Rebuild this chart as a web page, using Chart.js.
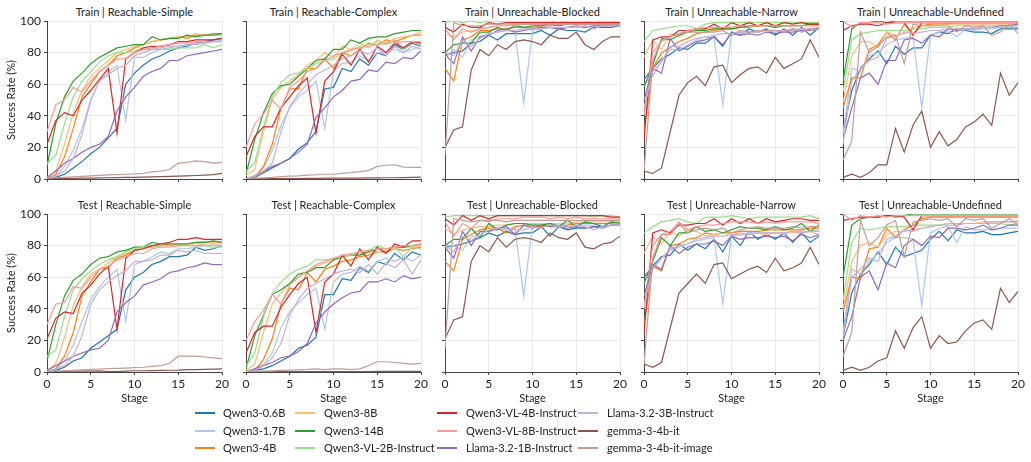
<!DOCTYPE html>
<html>
<head>
<meta charset="utf-8">
<script src="https://cdn.jsdelivr.net/npm/chart.js@4.4.0/dist/chart.umd.min.js"></script>
<style>
  body { margin: 0; background: #fff; width: 1031px; height: 462px; position: relative; overflow: hidden; font-family: Lato, "DejaVu Sans", sans-serif; color: #222; }
  canvas { position: absolute; }
  .ptitle { position: absolute; width: 175px; text-align: center; font-size: 11px; line-height: 13px; }
  .lg-line { position: absolute; width: 20px; height: 2px; }
  .lg-text { position: absolute; font-size: 11px; line-height: 13px; white-space: nowrap; }
</style>
</head>
<body>
<script>
// models, in legend order
const models = ['Qwen3-0.6B', 'Qwen3-1.7B', 'Qwen3-4B', 'Qwen3-8B', 'Qwen3-14B', 'Qwen3-VL-2B-Instruct',
  'Qwen3-VL-4B-Instruct', 'Qwen3-VL-8B-Instruct', 'Llama-3.2-1B-Instruct', 'Llama-3.2-3B-Instruct',
  'gemma-3-4b-it', 'gemma-3-4b-it-image'];
const colors = ['#1f77b4', '#aec7e8', '#ff7f0e', '#ffbb78', '#2ca02c', '#98df8a',
  '#d62728', '#ff9896', '#9467bd', '#c5b0d5', '#8c564b', '#c49c94'];

const stages = [0,1,2,3,4,5,6,7,8,9,10,11,12,13,14,15,16,17,18,19,20];
const xTicks = [0, 5, 10, 15, 20];
const yTicks = [0, 20, 40, 60, 80, 100];

const panelTitles = [
  'Train | Reachable-Simple', 'Train | Reachable-Complex', 'Train | Unreachable-Blocked', 'Train | Unreachable-Narrow', 'Train | Unreachable-Undefined',
  'Test | Reachable-Simple', 'Test | Reachable-Complex', 'Test | Unreachable-Blocked', 'Test | Unreachable-Narrow', 'Test | Unreachable-Undefined'
];

// success rate (%) per model, one row per model in the order above
const trainSimple = [
  [0,1,3,7,11,16,20,26,32,60,67,72,76,78,81,83,84,86,87,88,89],
  [0,2,8,18,32,50,62,68,72,37,77,77,80,82,83,84,85,86,86,87,88],
  [0,3,14,32,52,60,68,72,78,80,83,85,87,88,89,90,89,91,91,92,92],
  [1,5,22,42,56,65,70,75,80,82,84,85,87,88,89,90,90,92,91,91,91],
  [8,35,52,62,67,73,77,80,83,84,85,85,90,88,89,89,91,90,91,91,92],
  [10,15,35,52,62,68,74,78,80,80,81,82,82,82,82,83,83,83,85,83,85],
  [22,37,42,40,50,56,63,70,29,76,80,83,84,84,85,87,87,88,88,88,89],
  [30,47,50,58,55,62,68,72,76,76,80,82,83,84,85,86,86,87,87,87,87],
  [1,5,10,13,17,20,22,27,43,52,58,65,68,70,75,75,78,79,80,81,82],
  [0,2,5,13,28,50,62,66,70,72,78,80,82,83,84,84,85,85,86,87,87],
  [0,0.2,0.3,0.4,0.5,0.6,0.7,0.8,0.9,1,1,1.2,1.3,1.5,1.6,1.8,2,2.2,2.5,2.8,3.5],
  [0.5,0.8,1,1.3,1.7,2,2.3,2.6,2.8,3,3.2,3.6,4.5,5,6,10,10.5,11.5,11,10,10.5]
];
const trainComplex = [
  [0,1,4,7,10,13,19,23,30,57,58,70,68,76,72,80,78,85,82,86,84],
  [0,2,7,18,34,45,52,56,62,32,68,73,74,78,75,80,80,82,80,82,84],
  [0,1,8,22,45,57,57,70,70,76,70,80,78,82,86,85,88,87,89,91,91],
  [2,6,30,50,58,62,66,72,75,80,77,84,82,86,83,88,86,89,90,91,93],
  [3,25,42,54,59,60,65,70,75,76,82,82,88,86,89,90,90,92,93,94,94],
  [5,10,33,52,61,66,67,70,73,75,76,80,81,84,85,87,85,88,82,87,85],
  [14,27,33,33,45,52,59,64,29,62,68,79,72,82,74,84,80,86,83,87,86],
  [20,35,41,50,44,58,62,68,70,75,78,80,82,83,84,85,86,86,87,87,87],
  [0,2,5,8,10,13,17,22,39,45,52,56,62,63,69,68,74,73,77,76,81],
  [0,2,5,10,30,46,54,60,66,69,72,76,78,81,79,83,78,84,80,84,82],
  [0,0.1,0.1,0.2,0.2,0.3,0.3,0.4,0.4,0.5,0.5,0.5,0.6,0.6,0.7,0.7,0.8,0.8,0.9,1,1.2],
  [0.3,0.5,0.8,1,1.5,1.8,2,2.4,2.7,3,3,3.5,4,4.7,5.3,8,8.7,9,7.5,7.3,7.3]
];
const trainBlocked = [
  [78,80,81,86,87,91,88,92,92,92,92,94,91,95,94,94,93,96,96,96,97],
  [77,82,77,88,90,92,93,94,93,48,94,95,96,95,96,96,96,97,97,97,97],
  [70,62,88,90,94,94,95,95,96,96,96,97,97,98,98,98,98,98,98,98,98],
  [92,90,93,94,95,96,97,97,98,98,98,98,98,98,98,98,98,98,98,98,98],
  [80,85,86,86,93,93,96,94,97,96,97,97,98,97,98,98,98,99,98,98,98],
  [99,100,99,100,99,100,100,100,100,100,100,100,100,99,100,100,100,99,100,100,99],
  [96,93,98,96,96,99,98,99,99,99,99,99,99,99,99,99,99,99,99,99,99],
  [95,88,95,93,95,96,97,97,97,98,98,98,98,98,98,98,98,98,98,98,98],
  [79,73,90,81,90,91,94,95,93,94,95,96,96,95,96,97,96,97,97,97,97],
  [80,78,88,84,89,92,93,94,94,95,95,95,96,96,96,96,97,95,97,97,97],
  [20,31,33,69,82,78,85,82,87,88,87,85,91,89,89,93,85,82,87,90,90],
  [15,99,97,97,97,98,98,98,98,98,98,98,98,98,98,98,98,98,98,98,98]
];
const trainNarrow = [
  [63,70,76,79,83,82,86,86,90,84,93,91,95,93,95,91,95,91,96,91,96],
  [60,65,75,82,82,85,88,90,89,47,92,92,93,93,94,93,94,95,95,95,96],
  [30,70,80,83,87,89,92,93,94,95,95,96,96,97,97,97,97,97,97,98,98],
  [77,88,82,92,90,93,94,95,95,96,96,97,97,97,97,97,97,97,97,97,97],
  [58,72,89,88,91,93,94,94,95,95,95,96,97,97,97,96,97,97,97,98,98],
  [87,94,95,96,97,97,95,98,99,99,99,99,99,99,99,99,99,99,99,99,99],
  [25,88,90,90,94,94,95,95,98,95,99,97,99,97,99,97,99,98,99,98,98],
  [40,80,87,90,92,94,95,96,96,96,96,97,97,97,97,97,97,97,97,97,97],
  [50,70,67,89,81,84,87,88,90,85,92,91,92,91,93,92,93,93,94,94,95],
  [45,68,74,84,84,87,89,90,91,92,92,93,93,93,94,94,94,94,95,95,95],
  [5,3.5,7,30,53,61,65,59,71,72,61,66,70,71,67,77,70,73,76,88,77],
  [5,75,88,90,92,93,93,93,93,94,91,94,93,94,94,94,93,95,93,95,95]
];
const trainUndefined = [
  [30,56,70,76,81,73,84,79,83,83,91,93,92,95,94,93,93,92,95,95,95],
  [28,70,68,78,80,85,88,89,90,45,91,93,94,90,95,94,95,95,96,96,96],
  [45,64,64,82,85,93,88,98,92,97,98,98,98,99,99,99,99,99,99,99,99],
  [48,78,87,87,83,93,91,92,96,97,97,98,98,98,98,98,98,98,98,98,98],
  [62,95,99,99,100,99,100,100,100,100,100,100,100,100,100,100,100,100,100,100,100],
  [55,88,92,93,94,94,94,94,95,95,96,96,96,97,97,97,97,97,97,97,97],
  [94,97,98,98,97,99,99,99,91,99,99,99,99,99,99,99,99,99,99,99,99],
  [100,96,99,99,99,98,99,99,99,99,99,99,99,99,99,99,99,99,99,99,99],
  [25,45,64,67,60,75,75,88,89,86,91,90,95,94,95,95,96,96,97,97,98],
  [22,62,70,75,77,89,90,93,92,93,94,94,95,95,95,95,96,96,96,96,96],
  [1,3,1,4,9,9,32,17,34,43,20,30,21,25,33,36,41,34,67,53,61],
  [12,24,93,80,84,90,91,73,98,97,97,97,97,93,97,96,97,91,93,98,92]
];
const testSimple = [
  [0,1,3,7,9,15,19,23,27,52,60,63,68,70,73,73,74,79,77,78,80],
  [0,2,7,17,32,46,54,60,65,32,68,70,73,76,75,78,78,79,80,80,80],
  [0,2,10,25,48,57,65,66,72,74,77,78,80,80,81,81,81,82,82,82,82],
  [1,5,22,42,54,62,65,69,73,75,77,78,79,80,80,81,81,81,82,82,82],
  [7,30,48,58,62,68,72,73,76,77,79,79,82,81,81,81,81,82,82,83,82],
  [10,14,35,52,59,64,68,71,73,76,78,79,79,80,80,80,80,80,80,79,79],
  [21,34,38,37,50,55,62,67,27,72,77,78,80,81,82,84,84,85,84,84,84],
  [30,43,44,54,53,60,65,67,71,73,75,75,78,79,79,80,80,80,81,81,81],
  [1,4,7,10,12,14,15,20,38,44,48,55,57,59,63,64,66,67,69,68,68],
  [0,2,4,10,23,43,52,57,61,64,70,70,71,74,74,77,76,77,75,75,75],
  [0,0.3,0.4,0.5,0.5,0.6,0.7,0.3,0.2,0.6,0.8,0.8,0.9,1,1.1,1.2,1.5,1.5,1.6,1.8,2],
  [0.3,0.5,0.7,1,1.3,1.6,1.9,2.1,2.3,2.5,2.8,3,3.5,4,5.5,10,10,10,9.5,9,8.5]
];
const testComplex = [
  [0,1,2,4,7,10,15,17,22,49,49,59,58,66,63,70,68,75,71,76,74],
  [0,2,5,12,28,38,44,49,53,27,57,62,63,67,64,70,72,70,73,70,74],
  [0,1,8,21,43,53,52,63,57,65,67,70,71,73,74,76,76,78,77,78,79],
  [1,5,25,43,50,56,60,64,67,69,71,73,74,75,76,76,77,78,79,79,80],
  [2,23,36,49,52,56,62,63,66,66,71,73,74,74,76,78,78,79,79,80,81],
  [4,12,35,50,57,62,65,67,71,71,72,73,74,76,77,80,78,79,73,79,78],
  [12,25,29,29,41,49,56,60,25,57,62,74,67,78,71,79,75,81,79,83,83],
  [20,32,39,49,43,55,60,64,68,70,72,74,75,76,77,78,78,79,80,80,81],
  [0,2,4,6,9,10,13,18,31,38,43,47,50,51,57,57,59,57,61,59,60],
  [0,1,4,9,18,36,46,53,56,59,62,64,65,63,68,62,69,66,71,62,71],
  [0,0.1,0.1,0.1,0.2,0.2,0.2,0.3,0.3,0.3,0.3,0.3,0.3,0.3,0.3,0.4,0.4,0.4,0.4,0.4,0.4],
  [0.2,0.4,0.6,0.8,1,1.2,1.4,1.6,2,1.5,2,2,1.5,2,4,6.5,6.5,6,5.5,5,5.5]
];
const testBlocked = [
  [79,80,81,83,85,88,86,89,87,88,88,92,86,92,90,91,91,92,92,93,93],
  [80,80,77,85,88,89,90,91,91,48,93,93,94,93,94,93,93,93,94,94,93],
  [70,64,84,87,90,91,91,88,92,93,92,92,93,92,93,94,94,94,94,94,95],
  [91,87,90,91,92,92,93,93,94,94,94,94,94,94,94,95,95,95,95,95,95],
  [80,84,84,91,85,94,90,93,94,94,93,93,94,92,96,92,95,94,92,95,94],
  [98,99,99,99,99,99,99,99,99,99,99,99,99,99,99,99,99,98,99,99,98],
  [97,93,99,96,99,97,99,99,99,99,99,99,99,99,99,99,99,99,99,98,98],
  [95,86,94,91,96,95,97,97,97,98,98,98,97,98,97,98,97,97,97,97,97],
  [79,72,89,80,89,89,91,92,87,93,91,93,92,92,91,92,91,92,91,93,93],
  [80,76,86,83,87,90,91,90,90,90,92,91,93,92,92,93,92,90,92,93,93],
  [21,33,35,70,80,76,85,79,84,85,84,82,88,85,84,88,79,78,81,82,86],
  [15,97,96,95,96,96,96,95,96,96,96,96,96,96,96,96,96,96,96,96,96]
];
const testNarrow = [
  [60,67,73,74,81,77,81,78,84,76,86,80,89,84,87,84,88,82,88,82,86],
  [57,65,72,77,79,81,83,84,85,43,86,87,88,88,88,88,88,89,89,89,90],
  [30,67,64,80,81,84,85,88,87,88,88,89,89,89,90,90,90,90,90,91,91],
  [75,86,81,89,86,90,89,86,87,88,87,88,87,88,87,88,88,88,88,89,87],
  [56,70,85,80,88,88,92,89,90,88,90,92,91,91,90,92,90,91,94,89,93],
  [88,92,95,96,97,95,94,98,98,98,99,98,97,98,98,98,98,98,98,99,97],
  [25,88,90,88,93,93,94,94,97,93,97,94,97,94,97,95,96,97,97,96,96],
  [40,80,87,89,95,90,92,93,93,94,95,95,95,94,95,94,95,95,95,95,94],
  [48,68,65,80,75,79,81,81,83,80,86,84,85,85,86,85,86,83,87,85,87],
  [42,66,72,78,80,81,84,85,86,86,87,87,87,88,88,88,88,89,88,89,89],
  [5,3,6,28,50,56,62,56,68,69,59,62,65,67,63,72,64,66,69,79,68],
  [5,72,87,87,94,88,90,91,90,91,88,90,91,92,91,91,91,92,91,92,92]
];
const testUndefined = [
  [22,50,62,68,76,68,79,73,75,77,84,89,83,90,88,88,89,87,87,88,89],
  [25,65,62,70,75,82,85,85,84,42,88,91,92,82,92,90,90,90,91,91,91],
  [38,60,59,78,79,91,85,90,93,97,98,98,98,98,98,98,98,98,98,98,98],
  [40,70,80,82,79,87,89,89,90,91,92,93,94,94,94,94,95,95,95,95,96],
  [60,93,97,98,98,99,98,99,100,100,100,100,100,100,100,100,100,100,100,100,100],
  [45,82,91,90,91,92,92,92,93,93,93,93,94,94,94,94,94,94,94,93,94],
  [96,97,98,98,98,99,99,98,90,99,99,99,99,99,99,99,99,99,99,99,99],
  [100,96,99,98,99,98,99,99,99,99,99,99,99,99,99,99,99,99,99,99,99],
  [20,35,60,64,52,69,66,80,84,80,86,85,91,91,90,91,93,90,91,93,93],
  [22,60,65,72,70,84,86,90,89,91,92,93,93,93,94,94,94,95,95,95,95],
  [1,3,1,3,7,9,26,15,28,35,15,23,18,19,26,31,33,27,53,44,51],
  [10,25,96,80,85,93,96,73,95,96,97,96,97,92,97,96,97,91,94,97,93]
];

const panels = [trainSimple, trainComplex, trainBlocked, trainNarrow, trainUndefined,
  testSimple, testComplex, testBlocked, testNarrow, testUndefined];

// layout
const colLeft = [47, 246, 445, 644, 843];
const rowTop = [21, 214];
const plotW = 175, plotH = 158;
const yAxisW = 46, xAxisH = 36, padTop = 6, padRight = 8;
const fontFam = 'Lato, "DejaVu Sans", sans-serif';

panels.forEach((vals, p) => {
  const row = Math.floor(p / 5), col = p % 5;
  const L = colLeft[col], T = rowTop[row];

  const title = document.createElement('div');
  title.className = 'ptitle';
  title.style.left = L + 'px';
  title.style.top = (T - 16) + 'px';
  title.textContent = panelTitles[p];
  document.body.appendChild(title);

  const cv = document.createElement('canvas');
  cv.width = plotW + yAxisW + padRight;
  cv.height = plotH + padTop + xAxisH;
  cv.style.left = (L - yAxisW) + 'px';
  cv.style.top = (T - padTop) + 'px';
  document.body.appendChild(cv);

  new Chart(cv, {
    type: 'line',
    data: {
      datasets: vals.map((v, i) => ({
        label: models[i],
        data: v.map((y, j) => ({ x: stages[j], y: y })),
        borderColor: colors[i],
        backgroundColor: colors[i],
        borderWidth: 1.2,
        pointRadius: 0,
        tension: 0,
        fill: false,
        order: models.length - 1 - i
      }))
    },
    options: {
      responsive: false,
      animation: false,
      layout: { padding: { left: 0, right: padRight, top: padTop, bottom: 0 } },
      plugins: { legend: { display: false }, tooltip: { enabled: false } },
      scales: {
        x: {
          type: 'linear', min: 0, max: 20,
          afterBuildTicks: s => { s.ticks = xTicks.map(v => ({ value: v })); },
          ticks: { display: row === 1, color: '#222', padding: 2, maxRotation: 0, font: { family: fontFam, size: 12 } },
          grid: { color: '#ebebeb', tickColor: '#444', tickLength: 3 },
          border: { color: '#444' },
          title: { display: row === 1, text: 'Stage', color: '#222', font: { family: fontFam, size: 11 }, padding: { top: 0, bottom: 3 } },
          afterFit: s => { s.height = xAxisH; s.paddingLeft = 0; s.paddingRight = 0; }
        },
        y: {
          min: 0, max: 100,
          afterBuildTicks: s => { s.ticks = yTicks.map(v => ({ value: v })); },
          ticks: { display: col === 0, color: '#222', padding: 3, font: { family: fontFam, size: 12 } },
          grid: { color: '#ebebeb', tickColor: '#444', tickLength: 3 },
          border: { color: '#444' },
          title: { display: col === 0, text: 'Success Rate (%)', color: '#222', font: { family: fontFam, size: 11 }, padding: { top: 4, bottom: 0 } },
          afterFit: s => { s.width = yAxisW; s.paddingTop = 0; s.paddingBottom = 0; }
        }
      }
    }
  });
});

// legend, 4 columns of 3
const lgLineX = [195, 295, 437, 578];
const lgTextX = [223, 324, 466, 607];
const lgRowY = [413, 431, 448];
models.forEach((m, i) => {
  const c = Math.floor(i / 3), r = i % 3;
  const ln = document.createElement('div');
  ln.className = 'lg-line';
  ln.style.left = lgLineX[c] + 'px';
  ln.style.top = (lgRowY[r] - 1) + 'px';
  ln.style.background = colors[i];
  document.body.appendChild(ln);
  const tx = document.createElement('div');
  tx.className = 'lg-text';
  tx.style.left = lgTextX[c] + 'px';
  tx.style.top = (lgRowY[r] - 7) + 'px';
  tx.textContent = m;
  document.body.appendChild(tx);
});
</script>
</body>
</html>
